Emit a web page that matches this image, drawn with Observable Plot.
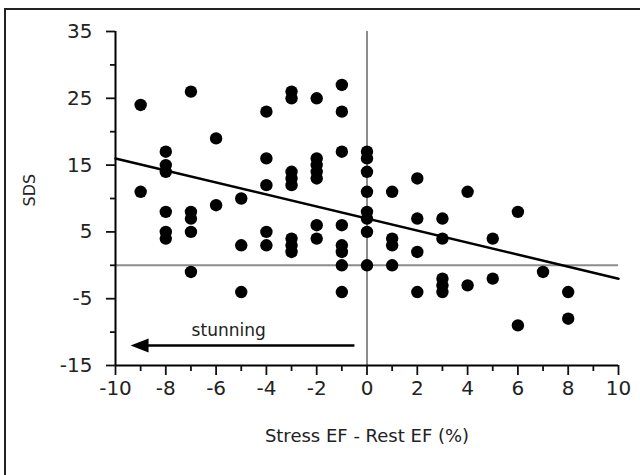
<!DOCTYPE html>
<html>
<head>
<meta charset="utf-8">
<script src="https://cdn.jsdelivr.net/npm/d3@7"></script>
<script src="https://cdn.jsdelivr.net/npm/@observablehq/plot@0.6"></script>
<style>
  body { margin: 0; background: #fff; }
  #wrap { position: relative; width: 640px; height: 475px; overflow: hidden; background: #fff; }
  #frame { position: absolute; left: 4px; top: 8px; width: 660px; height: 500px;
           border-left: 2px solid #222; border-top: 2px solid #222; pointer-events: none; }
</style>
</head>
<body>
<div id="wrap"><div id="frame"></div></div>
<script>
// ---- data ----
const efColumns = [-9, -8, -7, -6, -5, -4, -3, -2, -1, 0, 1, 2, 3, 4, 5, 6, 7, 8];
const sdsByColumn = [
  [24, 11],
  [17, 15, 14, 8, 5, 4],
  [26, 8, 7, 5, -1],
  [19, 9],
  [10, 3, -4],
  [23, 16, 12, 5, 3],
  [26, 25, 14, 13, 12, 4, 3, 2],
  [25, 16, 15, 14, 13, 6, 4],
  [27, 23, 17, 6, 3, 2, 0, -4],
  [17, 16, 14, 11, 8, 7, 5, 0],
  [11, 4, 3, 0],
  [13, 7, 2, -4],
  [7, 4, -2, -3, -4],
  [11, -3],
  [4, -2],
  [8, -9],
  [-1],
  [-4, -8]
];
const fitX = [-10, 10];
const fitY = [16, -2];
const arrowX = [-0.5, -9.4];
const arrowY = -12;
const arrowLabel = "stunning";
const arrowLabelPos = [-5.5, -9.8];
const xTicks = [-10, -8, -6, -4, -2, 0, 2, 4, 6, 8, 10];
const xMinor = [-9, -7, -5, -3, -1, 1, 3, 5, 7, 9];
const yTicks = [-15, -5, 5, 15, 25, 35];
const yMinor = [-10, 0, 10, 20, 30];
const xTitle = "Stress EF - Rest EF (%)";
const yTitle = "SDS";

// ---- tables built from the arrays ----
const points = efColumns.flatMap((x, i) => sdsByColumn[i].map(y => ({x, y})));
const fit = fitX.map((x, i) => ({x, y: fitY[i]}));
const arrowLine = [{x1: arrowX[0], x2: arrowX[1] + 0.5, y: arrowY}];
const arrowTip = [{x: arrowX[1], y: arrowY}];

const arrowhead = {
  draw(ctx) {
    ctx.moveTo(0, 0);
    ctx.lineTo(18, -7);
    ctx.lineTo(18, 7);
    ctx.closePath();
  }
};

const chart = Plot.plot({
  width: 640,
  height: 475,
  marginLeft: 115,
  marginRight: 22,
  marginTop: 31,
  marginBottom: 110,
  style: {fontFamily: "DejaVu Sans", fontSize: "20px", color: "#111", background: "transparent"},
  x: {domain: [-10, 10], axis: null},
  y: {domain: [-15, 35], axis: null},
  marks: [
    Plot.ruleX([0], {stroke: "#8c8c8c", strokeWidth: 2}),
    Plot.ruleY([0], {stroke: "#8c8c8c", strokeWidth: 2}),
    Plot.line(fit, {x: "x", y: "y", stroke: "#000", strokeWidth: 2.5}),
    Plot.dot(points, {x: "x", y: "y", r: 6.2, fill: "#000", stroke: "none"}),
    Plot.link(arrowLine, {x1: "x1", x2: "x2", y1: "y", y2: "y", stroke: "#000", strokeWidth: 2.5}),
    Plot.dot(arrowTip, {x: "x", y: "y", symbol: arrowhead, fill: "#000", stroke: "none", r: 5}),
    Plot.text([arrowLabel], {x: arrowLabelPos[0], y: arrowLabelPos[1], text: d => d, fontSize: 17, fill: "#222"}),
    Plot.ruleX([-10], {stroke: "#000", strokeWidth: 2}),
    Plot.ruleY([-15], {stroke: "#000", strokeWidth: 2}),
    Plot.axisY({ticks: yTicks, tickSize: 9, tickPadding: 14, fontSize: 20, tickFormat: String, label: null, strokeWidth: 1.8, fill: "#222"}),
    Plot.axisY({ticks: yMinor, tickSize: 5, tickFormat: () => "", label: null, strokeWidth: 1.8}),
    Plot.axisX({ticks: xTicks, tickSize: 10, tickPadding: 5, fontSize: 20, tickFormat: String, label: null, strokeWidth: 1.8, fill: "#222"}),
    Plot.axisX({ticks: xMinor, tickSize: 6, tickFormat: () => "", label: null, strokeWidth: 1.8}),
    Plot.text([xTitle], {frameAnchor: "bottom", dy: 76, text: d => d, fontSize: 18, fill: "#222"}),
    Plot.text([yTitle], {frameAnchor: "left", dx: -86, dy: 8, rotate: -90, text: d => d, fontSize: 16, fill: "#222"})
  ]
});
document.getElementById("wrap").prepend(chart);
</script>
</body>
</html>
